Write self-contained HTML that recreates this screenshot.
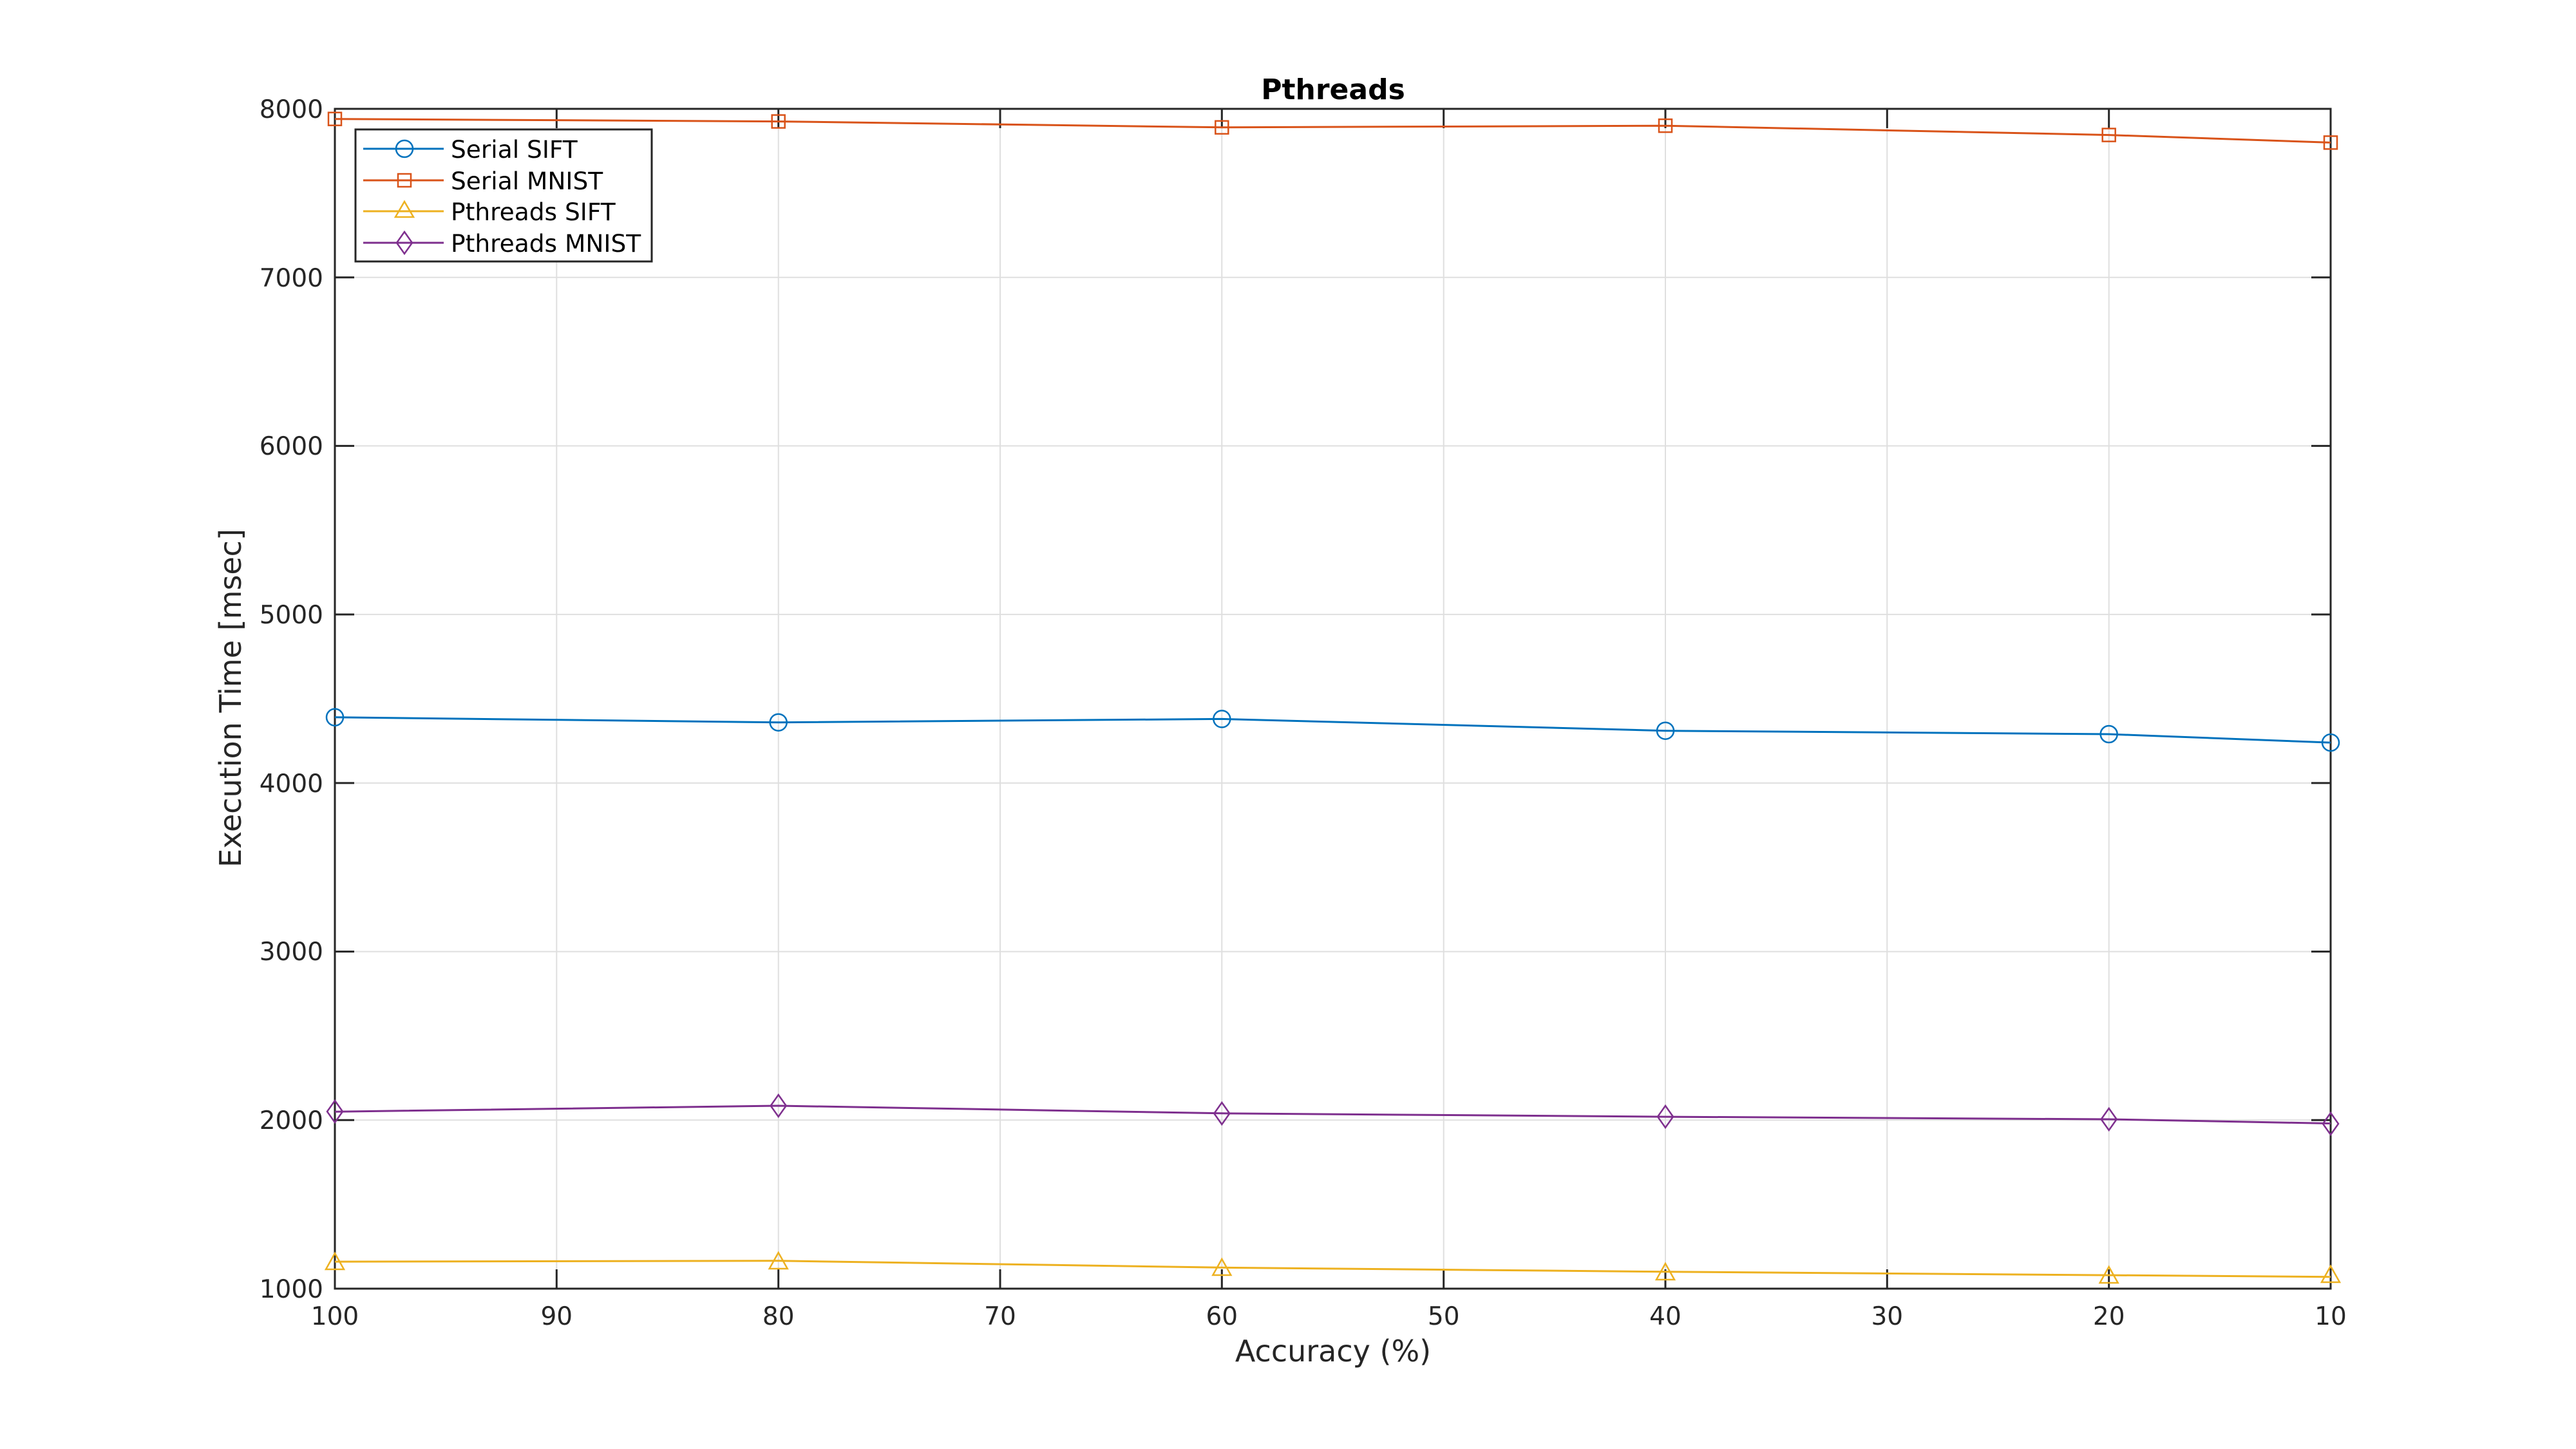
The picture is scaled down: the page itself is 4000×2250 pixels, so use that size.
<!DOCTYPE html>
<html><head><meta charset="utf-8"><style>html,body{margin:0;padding:0;background:#fff}svg{display:block}</style></head>
<body>
<svg width="4000" height="2250" xmlns="http://www.w3.org/2000/svg" font-family="DejaVu Sans, Liberation Sans, sans-serif">
<rect width="4000" height="2250" fill="#fff"/>
<g stroke="#dfdfdf" stroke-width="2">
<line x1="864.3" y1="169" x2="864.3" y2="2001"/><line x1="1208.7" y1="169" x2="1208.7" y2="2001"/>
<line x1="1553" y1="169" x2="1553" y2="2001"/><line x1="1897.3" y1="169" x2="1897.3" y2="2001"/>
<line x1="2241.7" y1="169" x2="2241.7" y2="2001"/><line x1="2586" y1="169" x2="2586" y2="2001"/>
<line x1="2930.3" y1="169" x2="2930.3" y2="2001"/><line x1="3274.7" y1="169" x2="3274.7" y2="2001"/>
<line x1="520" y1="1739.3" x2="3619" y2="1739.3"/><line x1="520" y1="1477.6" x2="3619" y2="1477.6"/>
<line x1="520" y1="1215.9" x2="3619" y2="1215.9"/><line x1="520" y1="954.1" x2="3619" y2="954.1"/>
<line x1="520" y1="692.4" x2="3619" y2="692.4"/><line x1="520" y1="430.7" x2="3619" y2="430.7"/>
</g>
<g stroke="#262626" stroke-width="3">
<path d="M864.3 2001v-30M1208.7 2001v-30M1553 2001v-30M1897.3 2001v-30M2241.7 2001v-30M2586 2001v-30M2930.3 2001v-30M3274.7 2001v-30
M864.3 169v30M1208.7 169v30M1553 169v30M1897.3 169v30M2241.7 169v30M2586 169v30M2930.3 169v30M3274.7 169v30
M520 1739.3h30M520 1477.6h30M520 1215.9h30M520 954.1h30M520 692.4h30M520 430.7h30
M3619 1739.3h-30M3619 1477.6h-30M3619 1215.9h-30M3619 954.1h-30M3619 692.4h-30M3619 430.7h-30"/>
<rect x="520" y="169" width="3099" height="1832" fill="none"/>
</g>
<g fill="none" stroke-width="3">
<polyline stroke="#0072BD" points="520,1113.8 1208.7,1121.7 1897.3,1116.4 2586,1134.7 3274.7,1140 3619,1153.1"/>
<polyline stroke="#D95319" points="520,184.7 1208.7,188.6 1897.3,197.8 2586,195.2 3274.7,209.6 3619,221.4"/>
<polyline stroke="#EDB120" points="520,1959.1 1208.7,1957.8 1897.3,1968.3 2586,1974.8 3274.7,1980.1 3619,1982.7"/>
<polyline stroke="#7E2F8E" points="520,1726.2 1208.7,1717 1897.3,1728.8 2586,1734.1 3274.7,1738 3619,1744.5"/>
</g>
<g fill="none" stroke-width="2.5">
<g stroke="#0072BD"><circle cx="520" cy="1113.8" r="13"/><circle cx="1208.7" cy="1121.7" r="13"/><circle cx="1897.3" cy="1116.4" r="13"/><circle cx="2586" cy="1134.7" r="13"/><circle cx="3274.7" cy="1140" r="13"/><circle cx="3619" cy="1153.1" r="13"/></g>
<g stroke="#D95319"><rect x="510" y="174.7" width="20" height="20"/><rect x="1198.7" y="178.6" width="20" height="20"/><rect x="1887.3" y="187.8" width="20" height="20"/><rect x="2576" y="185.2" width="20" height="20"/><rect x="3264.7" y="199.6" width="20" height="20"/><rect x="3609" y="211.4" width="20" height="20"/></g>
<g stroke="#EDB120">
<path d="M520 1946l-14 25h28z"/><path d="M1208.7 1945l-14 25h28z"/><path d="M1897.3 1955l-14 25h28z"/><path d="M2586 1962l-14 25h28z"/><path d="M3274.7 1967l-14 25h28z"/><path d="M3619 1966l-14 25h28z"/></g>
<g stroke="#7E2F8E">
<path d="M520 1709l12 17-12 17-12-17z"/><path d="M1208.7 1700l12 17-12 17-12-17z"/><path d="M1897.3 1712l12 17-12 17-12-17z"/><path d="M2586 1717l12 17-12 17-12-17z"/><path d="M3274.7 1721l12 17-12 17-12-17z"/><path d="M3619 1728l12 17-12 17-12-17z"/></g>
</g>
<g font-size="39" fill="#262626" text-anchor="middle">
<text x="520" y="2057">100</text><text x="864.3" y="2057">90</text><text x="1208.7" y="2057">80</text><text x="1553" y="2057">70</text><text x="1897.3" y="2057">60</text><text x="2241.7" y="2057">50</text><text x="2586" y="2057">40</text><text x="2930.3" y="2057">30</text><text x="3274.7" y="2057">20</text><text x="3619" y="2057">10</text>
</g>
<g font-size="39" fill="#262626" text-anchor="end">
<text x="502" y="2015">1000</text><text x="502" y="1753">2000</text><text x="502" y="1491">3000</text><text x="502" y="1230">4000</text><text x="502" y="968">5000</text><text x="502" y="706">6000</text><text x="502" y="445">7000</text><text x="502" y="183">8000</text>
</g>
<text x="2070" y="2114" font-size="46" fill="#262626" text-anchor="middle">Accuracy (%)</text>
<text transform="translate(374,1084) rotate(-90)" font-size="46" fill="#262626" text-anchor="middle">Execution Time [msec]</text>
<text x="2070" y="154" font-size="44" font-weight="bold" fill="#000" text-anchor="middle">Pthreads</text>
<rect x="552" y="201" width="460" height="205" fill="#fff" stroke="#262626" stroke-width="3"/>
<g stroke-width="3" fill="none">
<line x1="564" y1="231" x2="689" y2="231" stroke="#0072BD"/><circle cx="628" cy="231" r="13" stroke="#0072BD" stroke-width="2.5"/>
<line x1="564" y1="280" x2="689" y2="280" stroke="#D95319"/><rect x="618" y="270" width="20" height="20" stroke="#D95319" stroke-width="2.5"/>
<line x1="564" y1="328" x2="689" y2="328" stroke="#EDB120"/><path d="M628 313l-14 24h28z" stroke="#EDB120" stroke-width="2.5"/>
<line x1="564" y1="377" x2="689" y2="377" stroke="#7E2F8E"/><path d="M628 360l12 17-12 17-12-17z" stroke="#7E2F8E" stroke-width="2.5"/>
</g>
<g font-size="37.5" fill="#000">
<text x="700" y="245">Serial SIFT</text><text x="700" y="294">Serial MNIST</text><text x="700" y="342">Pthreads SIFT</text><text x="700" y="391">Pthreads MNIST</text>
</g>
</svg>
</body></html>
